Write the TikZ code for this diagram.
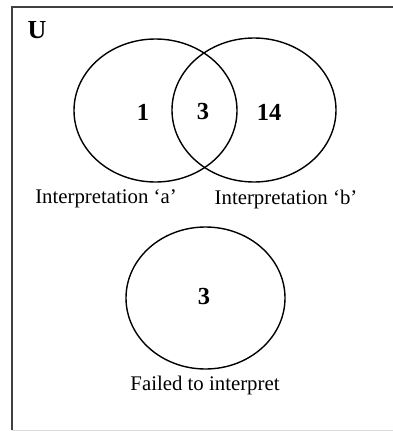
\documentclass[tikz,border=0pt]{standalone}
\usepackage{fontspec}
\setmainfont{Liberation Serif}
\begin{document}
\begin{tikzpicture}[x=1pt,y=-1pt,
  setring/.style={draw=black,line width=1.4pt},
  lbl/.style={font=\fontsize{20.8}{23}\selectfont,inner sep=0pt},
  num/.style={font=\fontsize{24.5}{26}\selectfont\bfseries,inner sep=0pt}]
\useasboundingbox (0,0) rectangle (393,431);
\draw[line width=2pt,draw=black!75] (12,430) -- (12,7) -- (394,7);
\draw[line width=1pt,draw=black!15] (12,430) -- (394,430);
\node[font=\fontsize{26}{28}\selectfont\bfseries,inner sep=0pt] (u) at (37,30) {U};
\draw[setring] (155.5,110.5) ellipse [x radius=81.5, y radius=71.5];
\draw[setring] (254,110) ellipse [x radius=82, y radius=72];
\draw[setring] (205.5,298) ellipse [x radius=79.5, y radius=71];
\node[num] (n1) at (143,112) {1};
\node[num] (n3) at (203,112) {3};
\node[num] (n14) at (269,112) {14};
\node[num] (n3b) at (204,297) {3};
\node[lbl] (la) at (106,199) {Interpretation ‘a’};
\node[lbl] (lb) at (286,199) {Interpretation ‘b’};
\node[lbl] (lf) at (205,385) {Failed to interpret};
\end{tikzpicture}
\end{document}
